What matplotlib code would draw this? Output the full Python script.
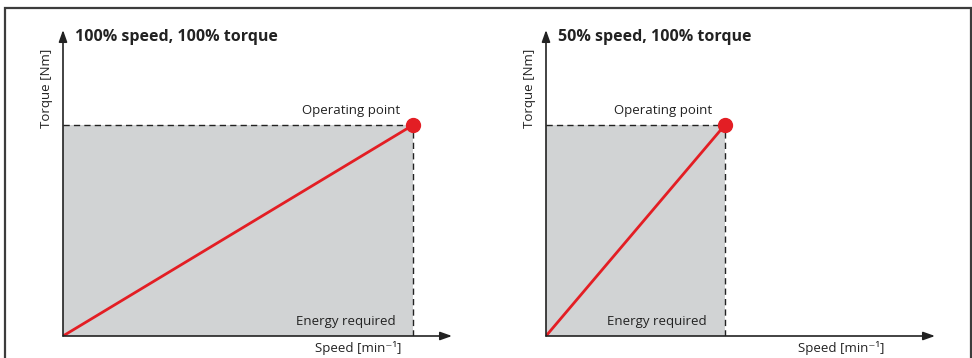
import matplotlib
matplotlib.use("Agg")
import matplotlib.pyplot as plt
from matplotlib.patches import Rectangle

plt.rcParams['font.family'] = ['Open Sans', 'DejaVu Sans']

titles = ["100% speed, 100% torque", "50% speed, 100% torque"]
op_speed = [1.0, 0.5]      # fraction of nominal speed
op_torque = [1.0, 1.0]     # fraction of nominal torque
xmax = [1.111, 1.087]
ymax = 1.45
xlabel = "Speed [min\u207b\u00b9]"
ylabel = "Torque [Nm]"
op_label = "Operating point"
energy_label = "Energy required"

W, H = 972, 358
fig = plt.figure(figsize=(W / 100, H / 100), dpi=100)

# outer frame
fig.patches.append(Rectangle((5 / W, -0.05), (971 - 5) / W, (H - 8) / H + 0.05,
                             transform=fig.transFigure, fill=False,
                             edgecolor='#3c3c3c', lw=1.6))

origins = [63, 546]
red = '#e31e24'
grey = '#d1d3d4'
for i in range(2):
    ax = fig.add_axes([origins[i] / W, (H - 336) / H, 389 / W, 306 / H])
    ax.set_xlim(0, xmax[i])
    ax.set_ylim(0, ymax)
    ax.axis('off')
    s, t = op_speed[i], op_torque[i]
    ax.fill_between([0, s], [t, t], 0, color=grey, lw=0, zorder=1)
    ax.plot([0, s], [t, t], ls=(0, (4.5, 3)), color='#222222', lw=1.0, zorder=2)
    ax.plot([s, s], [0, t], ls=(0, (4.5, 3)), color='#222222', lw=1.0, zorder=2)
    ax.plot([0, s], [0, t], color=red, lw=2.0, zorder=3, solid_capstyle='butt')
    ax.plot([s], [t], 'o', color=red, ms=10, zorder=4)
    # axes arrows
    ax.annotate('', xy=(1, 0), xytext=(0, 0), xycoords='axes fraction',
                arrowprops=dict(arrowstyle='-|>,head_length=0.7,head_width=0.25',
                                color='#222222', lw=1.2, shrinkA=0, shrinkB=0))
    ax.annotate('', xy=(0, 1), xytext=(0, 0), xycoords='axes fraction',
                arrowprops=dict(arrowstyle='-|>,head_length=0.7,head_width=0.25',
                                color='#222222', lw=1.2, shrinkA=0, shrinkB=0))
    ax.text(0.03, 0.978, titles[i], transform=ax.transAxes, fontsize=11.5,
            fontweight='bold', ha='left', va='center', color='#222222')
    ax.text(-0.043, 0.81, ylabel, transform=ax.transAxes, rotation=90,
            fontsize=9.5, ha='center', va='center', color='#222222')
    ax.text(0.76, -0.04, xlabel, transform=ax.transAxes, fontsize=9.5,
            ha='center', va='center', color='#222222')
    ax.annotate(op_label, xy=(s, t), xytext=(-13, 14), textcoords='offset pixels',
                fontsize=9.5, ha='right', va='center', color='#222222')
    ax.annotate(energy_label, xy=(s, 0), xytext=(-18, 15), textcoords='offset pixels',
                fontsize=9.5, ha='right', va='center', color='#222222')

fig.savefig('out.png', dpi=100)
